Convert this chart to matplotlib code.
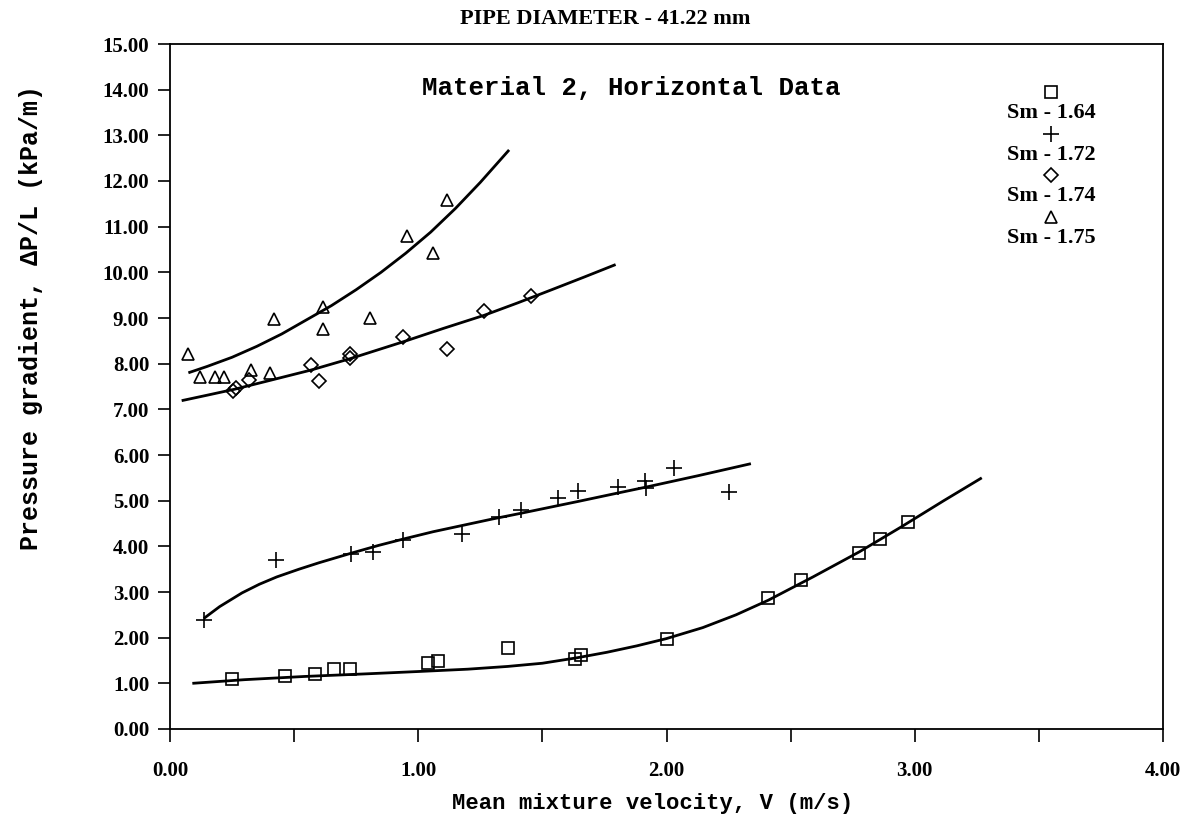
import matplotlib
matplotlib.use("Agg")
import matplotlib.pyplot as plt
from matplotlib.ticker import MultipleLocator

# measured points, Sm = 1.64 / 1.72 / 1.74 / 1.75
v_164 = [0.25, 0.465, 0.586, 0.659, 0.726, 1.039, 1.079, 1.361, 1.633, 1.656, 2.0,
         2.41, 2.54, 2.777, 2.861, 2.972]
dp_164 = [1.09, 1.16, 1.21, 1.31, 1.32, 1.45, 1.50, 1.77, 1.54, 1.61, 1.97,
          2.86, 3.26, 3.86, 4.17, 4.54]

v_172 = [0.136, 0.428, 0.729, 0.819, 0.938, 1.178, 1.327, 1.412, 1.561, 1.645,
         1.806, 1.915, 1.919, 2.031, 2.253]
dp_172 = [2.39, 3.71, 3.84, 3.88, 4.14, 4.27, 4.64, 4.79, 5.05, 5.22,
          5.30, 5.43, 5.28, 5.72, 5.19]

v_174 = [0.255, 0.265, 0.319, 0.568, 0.602, 0.726, 0.726, 0.94, 1.117, 1.266, 1.455]
dp_174 = [7.40, 7.46, 7.64, 7.98, 7.62, 8.22, 8.13, 8.58, 8.32, 9.15, 9.49]

v_175 = [0.074, 0.121, 0.182, 0.219, 0.327, 0.401, 0.42, 0.617, 0.617, 0.807,
         0.955, 1.06, 1.115]
dp_175 = [8.21, 7.70, 7.71, 7.71, 7.86, 7.80, 8.98, 9.24, 8.77, 9.00,
          10.79, 10.42, 11.59]

# fitted curves
fit_v_164 = [0.09, 0.3, 0.54, 0.8, 1.005, 1.2, 1.36, 1.5, 1.64, 1.76, 1.88, 2.0,
             2.146, 2.28, 2.41, 2.59, 2.777, 2.947, 3.117, 3.27]
fit_dp_164 = [1.00, 1.08, 1.15, 1.21, 1.26, 1.31, 1.37, 1.44, 1.56, 1.68, 1.82, 1.98,
              2.22, 2.50, 2.82, 3.33, 3.88, 4.43, 5.00, 5.50]

fit_v_172 = [0.136, 0.2, 0.29, 0.36, 0.43, 0.52, 0.6, 0.73, 0.84, 0.94, 1.06, 1.18,
             1.3, 1.41, 1.53, 1.65, 1.78, 1.92, 2.13, 2.34]
fit_dp_172 = [2.42, 2.68, 2.98, 3.17, 3.33, 3.50, 3.64, 3.85, 4.02, 4.16, 4.32, 4.46,
              4.60, 4.72, 4.855, 4.99, 5.14, 5.30, 5.55, 5.81]

fit_v_174 = [0.047, 0.15, 0.26, 0.4, 0.568, 0.726, 0.94, 1.1, 1.266, 1.4, 1.538,
             1.67, 1.795]
fit_dp_174 = [7.19, 7.31, 7.44, 7.63, 7.86, 8.11, 8.48, 8.77, 9.06, 9.33, 9.62,
              9.90, 10.17]

fit_v_175 = [0.074, 0.15, 0.25, 0.35, 0.45, 0.55, 0.65, 0.75, 0.85, 0.95, 1.05,
             1.15, 1.25, 1.366]
fit_dp_175 = [7.80, 7.94, 8.14, 8.38, 8.65, 8.96, 9.27, 9.62, 10.00, 10.42, 10.88,
              11.40, 11.97, 12.68]

sm_labels = ["Sm - 1.64", "Sm - 1.72", "Sm - 1.74", "Sm - 1.75"]
sm_markers = ["s", "+", "D", "^"]
x_ticks = [0, 1, 2, 3, 4]
x_ticklabels = ["0.00", "1.00", "2.00", "3.00", "4.00"]
y_ticks = list(range(0, 16))
y_ticklabels = ["%.2f" % t for t in y_ticks]

serif = "Liberation Serif"
mono = "Liberation Mono"
msize = {"s": 9, "+": 11, "D": 7, "^": 9}

fig = plt.figure(figsize=(11.91, 8.15), dpi=100)
ax = fig.add_axes([170 / 1191, 1 - 729 / 815, (1163 - 170) / 1191, (729 - 44) / 815])

mk = dict(linestyle="none", color="black", markerfacecolor="none", markeredgewidth=1.2)
ax.plot(v_164, dp_164, marker="s", markersize=msize["s"], **mk)
ax.plot(v_172, dp_172, marker="+", markersize=msize["+"], **mk)
ax.plot(v_174, dp_174, marker="D", markersize=msize["D"], **mk)
ax.plot(v_175, dp_175, marker="^", markersize=msize["^"], **mk)

for fv, fdp in [(fit_v_164, fit_dp_164), (fit_v_172, fit_dp_172),
                (fit_v_174, fit_dp_174), (fit_v_175, fit_dp_175)]:
    ax.plot(fv, fdp, color="black", lw=2.0, solid_capstyle="butt",
            solid_joinstyle="round")

ax.set_xlim(0, 4)
ax.set_ylim(0, 15)
ax.set_xticks(x_ticks)
ax.set_xticklabels(x_ticklabels)
ax.xaxis.set_minor_locator(MultipleLocator(0.5))
ax.set_yticks(y_ticks)
ax.set_yticklabels(y_ticklabels)
ax.tick_params(axis="x", which="both", direction="out", length=9, width=1.2, pad=14)
ax.tick_params(axis="y", direction="out", length=9, width=1.2, pad=6)
for lab in ax.get_xticklabels() + ax.get_yticklabels():
    lab.set_fontfamily(serif)
    lab.set_fontweight("bold")
    lab.set_fontsize(15)
for sp in ax.spines.values():
    sp.set_linewidth(1.3)

ax.set_xlabel("Mean mixture velocity, V (m/s)", family=mono, weight="bold",
              fontsize=16)
ax.xaxis.set_label_coords(0.486, -0.094)
ax.set_ylabel("Pressure gradient, \u0394P/L (kPa/m)", family=mono, weight="bold",
              fontsize=18)
ax.yaxis.set_label_coords(-0.128, 0.60)

ax.text(1.86, 14.03, "Material 2, Horizontal Data", family=mono, weight="bold",
        fontsize=18.5, ha="center", va="center")
fig.text(605 / 1191, 1 - 19 / 815, "PIPE DIAMETER - 41.22 mm", family=serif,
         weight="bold", fontsize=16, ha="center", va="center")

# key: marker above each label
key_y = [92, 134, 175, 217]
for i, (lab, m) in enumerate(zip(sm_labels, sm_markers)):
    yk = 1 - key_y[i] / 815
    fig.lines.append(plt.Line2D([1051 / 1191], [yk], marker=m, markersize=msize[m],
                                color="black", markerfacecolor="none",
                                markeredgewidth=1.2, transform=fig.transFigure))
    fig.text(1051 / 1191, 1 - (key_y[i] + 21) / 815, lab, family=serif,
             weight="bold", fontsize=16, ha="center", va="center")

fig.savefig("out.png", dpi=100, facecolor="white")
